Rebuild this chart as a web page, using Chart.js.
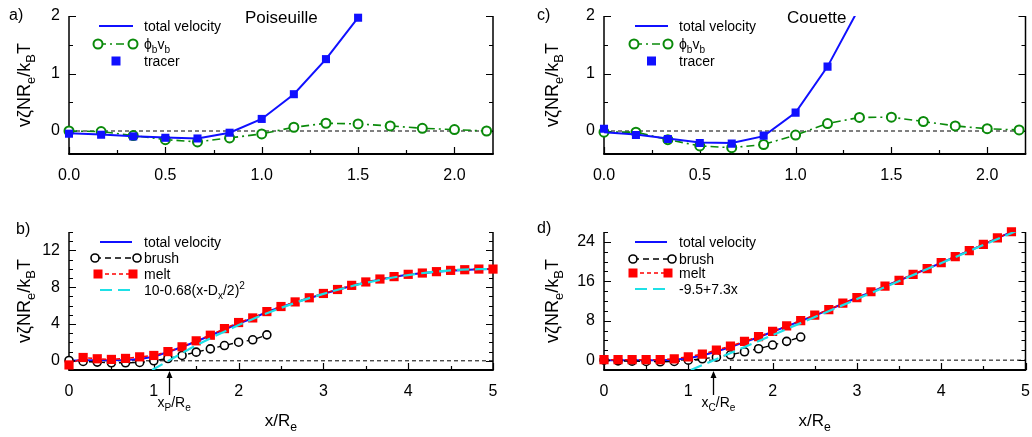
<!DOCTYPE html>
<html>
<head>
<meta charset="utf-8">
<script src="https://cdn.jsdelivr.net/npm/chart.js@4.4.1/dist/chart.umd.min.js"></script>
<style>
  html, body { margin: 0; padding: 0; background: #fff; width: 1032px; height: 437px; overflow: hidden; }
  canvas { position: absolute; }
</style>
</head>
<body>
<canvas id="ca" width="516" height="200" style="left:0;top:0"></canvas>
<canvas id="cb" width="516" height="237" style="left:0;top:200px"></canvas>
<canvas id="cc" width="516" height="200" style="left:516px;top:0"></canvas>
<canvas id="cd" width="516" height="237" style="left:516px;top:200px"></canvas>
<script>
  // ---- data ----
  const xSixths = [0, 0.1667, 0.3333, 0.5, 0.6667, 0.8333, 1.0, 1.1667, 1.3333, 1.5, 1.6667, 1.8333, 2.0, 2.1667];
  const xLong = [0, 0.1667, 0.3333, 0.5, 0.6667, 0.8333, 1.0, 1.1667, 1.3333, 1.5, 1.6667, 1.8333, 2.0, 2.1667, 2.3333,
    2.5, 2.6667, 2.8333, 3.0, 3.1667, 3.3333, 3.5, 3.6667, 3.8333, 4.0, 4.1667, 4.3333, 4.5, 4.6667, 4.8333, 5.0];

  // a) Poiseuille
  const tracerA = [-0.047, -0.065, -0.094, -0.118, -0.13, -0.03, 0.21, 0.64, 1.25, 1.97];
  const totalA = [-0.04, -0.06, -0.09, -0.115, -0.13, -0.03, 0.21, 0.64, 1.25, 1.97];
  const phiA = [0.0, -0.01, -0.08, -0.15, -0.19, -0.12, -0.05, 0.065, 0.135, 0.123, 0.088, 0.047, 0.024, 0.0];

  // c) Couette
  const tracerC = [0.04, -0.07, -0.14, -0.21, -0.22, -0.08, 0.32, 1.12];
  const totalC = [-0.02, -0.06, -0.13, -0.2, -0.21, -0.09, 0.32, 1.12, 2.15];
  const phiC = [-0.02, -0.02, -0.15, -0.26, -0.29, -0.235, -0.07, 0.13, 0.236, 0.24, 0.165, 0.088, 0.04, 0.018];

  // b) Poiseuille profile
  const meltB = [-0.45, 0.36, 0.22, 0.15, 0.26, 0.43, 0.58, 1.0, 1.52, 2.17, 2.78, 3.5, 4.16, 4.66, 5.35, 5.9,
    6.4, 6.85, 7.32, 7.75, 8.2, 8.57, 8.89, 9.15, 9.4, 9.54, 9.69, 9.83, 9.9, 9.97, 9.97];
  const totalB = [0, 0.05, 0.05, 0.05, 0.1, 0.2, 0.45, 0.95, 1.5, 2.1, 2.75, 3.4, 4.05, 4.62, 5.3, 5.85,
    6.35, 6.8, 7.28, 7.7, 8.15, 8.52, 8.85, 9.12, 9.37, 9.52, 9.67, 9.8, 9.88, 9.95, 9.97];
  const brushB = [0.04, -0.07, -0.14, -0.22, -0.22, -0.18, 0.0, 0.25, 0.58, 0.94, 1.3, 1.66, 2.02, 2.28, 2.82];
  const fitBx = [0.98, 1.5, 2.0, 2.5, 3.0, 3.5, 4.0, 4.5, 5.0];
  const fitBy = [-1.0, 1.67, 3.88, 5.75, 7.28, 8.47, 9.32, 9.83, 10.0];

  // d) Couette profile
  const meltD = [0.1, 0.1, 0.1, 0.1, 0.1, 0.27, 0.68, 1.22, 2.04, 2.86, 3.81, 4.76, 5.85, 6.94, 8.03, 9.12,
    10.25, 11.55, 12.7, 13.88, 15.03, 16.19, 17.41, 18.57, 19.8, 21.02, 22.24, 23.5, 24.8, 26.05];
  const totalD = [0, 0, 0, 0, 0, 0.1, 0.4, 0.95, 1.75, 2.65, 3.65, 4.65, 5.75, 6.85, 7.95, 9.05,
    10.2, 11.45, 12.65, 13.8, 15.0, 16.15, 17.35, 18.55, 19.75, 21.0, 22.2, 23.45, 24.75, 26.0];
  const brushD = [0, -0.14, -0.2, -0.27, -0.34, -0.27, 0, 0.27, 0.61, 1.09, 1.7, 2.31, 3.06, 3.81, 4.69];
  const fitDx = [1.03, 5.0];
  const fitDy = [-2.0, 27.0];

  // tick labels
  const xTicksTop = [0, 0.5, 1.0, 1.5, 2.0];
  const yTicksTop = [0, 1, 2];
  const xTicksBot = [0, 1, 2, 3, 4, 5];
  const yTicksB = [0, 4, 8, 12];
  const yTicksD = [0, 8, 16, 24];

  const FONT = '"Liberation Sans", Arial, Helvetica, sans-serif';
  const BLUE = '#1010ff', GREEN = '#0a8a0a', RED = '#ff0000', CYAN = '#1ee0e6';

  const Y_TITLE = [['v\u03B6NR'], ['e', 'sub'], ['/k'], ['B', 'sub'], ['T']];
  const X_TITLE = [['x/R'], ['e', 'sub']];

  const pts = (xs, ys) => ys.map((v, i) => ({ x: xs[i], y: v }));

  function rich(ctx, parts, x, y, size, align) {
    const sz = p => (p[1] ? size * 0.72 : size);
    const w = parts.map(p => { ctx.font = sz(p) + 'px ' + FONT; return ctx.measureText(p[0]).width; });
    const total = w.reduce((s, v) => s + v, 0);
    let cx = align === 'center' ? x - total / 2 : x;
    parts.forEach((p, i) => {
      const dy = p[1] === 'sub' ? size * 0.28 : p[1] === 'sup' ? -size * 0.42 : 0;
      ctx.font = sz(p) + 'px ' + FONT;
      ctx.fillText(p[0], cx, y + dy);
      cx += w[i];
    });
  }

  function marker(ctx, kind, x, y, color) {
    ctx.save();
    if (kind === 'rect') {
      ctx.fillStyle = color;
      ctx.fillRect(x - 4.5, y - 4.5, 9, 9);
    } else {
      ctx.fillStyle = '#fff';
      ctx.strokeStyle = color;
      ctx.lineWidth = kind === 'circleThin' ? 1.6 : 2;
      ctx.setLineDash([]);
      ctx.beginPath();
      ctx.arc(x, y, kind === 'circleThin' ? 4 : 4.5, 0, Math.PI * 2);
      ctx.fill();
      ctx.stroke();
    }
    ctx.restore();
  }

  const decor = {
    id: 'decor',
    beforeDatasetsDraw(chart, args, o) {
      const { ctx, chartArea: a, scales: { x, y } } = chart;
      ctx.save();
      ctx.strokeStyle = '#000';
      ctx.lineWidth = 1.5;
      ctx.beginPath();
      ctx.moveTo(a.left, a.top); ctx.lineTo(a.left, a.bottom);
      ctx.moveTo(a.right, a.top); ctx.lineTo(a.right, a.bottom);
      ctx.stroke();
      ctx.lineWidth = 2;
      ctx.beginPath();
      ctx.moveTo(a.left - 0.75, a.bottom); ctx.lineTo(a.right + 0.75, a.bottom);
      ctx.stroke();
      ctx.lineWidth = 1.2;
      ctx.beginPath();
      const isMajor = (arr, v) => arr.some(t => Math.abs(t - v) < 1e-6);
      const yStart = Math.ceil(y.min / o.yMinor - 1e-9) * o.yMinor;
      for (let i = 0; ; i++) {
        const v = yStart + i * o.yMinor;
        if (v > y.max + 1e-9) break;
        const py = Math.round(y.getPixelForValue(v)) + 0.5;
        const len = isMajor(o.yLabels, v) ? 7 : 4;
        ctx.moveTo(a.left, py); ctx.lineTo(a.left + len, py);
        ctx.moveTo(a.right, py); ctx.lineTo(a.right - len, py);
      }
      const xStart = Math.ceil(x.min / o.xMinor - 1e-9) * o.xMinor;
      for (let i = 0; ; i++) {
        const v = xStart + i * o.xMinor;
        if (v > x.max + 1e-9) break;
        const px = Math.round(x.getPixelForValue(v)) + 0.5;
        const len = isMajor(o.xLabels, v) ? 7 : 4;
        ctx.moveTo(px, a.bottom); ctx.lineTo(px, a.bottom - len);
      }
      ctx.stroke();
      ctx.restore();
    },
    afterDraw(chart, args, o) {
      const { ctx, chartArea: a, scales: { x } } = chart;
      ctx.save();
      ctx.fillStyle = '#000';
      ctx.textBaseline = 'alphabetic';
      ctx.font = '16px ' + FONT;
      ctx.fillText(o.letter.text, o.letter.x, o.letter.y);
      if (o.title) {
        ctx.font = '17px ' + FONT;
        ctx.fillText(o.title.text, o.title.x, o.title.y);
      }
      // y title
      ctx.save();
      ctx.translate(o.yTitleX, (a.top + a.bottom) / 2);
      ctx.rotate(-Math.PI / 2);
      rich(ctx, Y_TITLE, 0, 0, 18, 'center');
      ctx.restore();
      if (o.xTitleY) rich(ctx, X_TITLE, (a.left + a.right) / 2, o.xTitleY, 17, 'center');
      // legend
      o.legend.forEach(it => {
        ctx.save();
        if (it.line) {
          ctx.strokeStyle = it.color;
          ctx.lineWidth = it.width;
          ctx.setLineDash(it.dash || []);
          ctx.beginPath();
          ctx.moveTo(it.x1, it.y); ctx.lineTo(it.x2, it.y);
          ctx.stroke();
        }
        if (it.marker === 'ends') {
          marker(ctx, it.kind, it.x1, it.y, it.color);
          marker(ctx, it.kind, it.x2, it.y, it.color);
        } else if (it.marker === 'mid') {
          marker(ctx, it.kind, (it.x1 + it.x2) / 2, it.y, it.color);
        }
        ctx.restore();
        ctx.fillStyle = '#000';
        rich(ctx, it.text, o.legendTextX, it.y + 5, 14, 'left');
      });
      // arrow marking x_P / x_C
      if (o.arrow) {
        const px = Math.round(x.getPixelForValue(o.arrow.x)) + 0.5;
        ctx.strokeStyle = '#000';
        ctx.lineWidth = 1.3;
        ctx.beginPath();
        ctx.moveTo(px, a.bottom + 6); ctx.lineTo(px, a.bottom + 25);
        ctx.stroke();
        ctx.beginPath();
        ctx.moveTo(px, a.bottom + 1); ctx.lineTo(px - 3, a.bottom + 8); ctx.lineTo(px + 3, a.bottom + 8);
        ctx.closePath();
        ctx.fill();
        rich(ctx, o.arrow.label, px - 12, a.bottom + 37, 14, 'left');
      }
      ctx.restore();
    }
  };

  function makeChart(id, datasets, o) {
    return new Chart(document.getElementById(id).getContext('2d'), {
      type: 'scatter',
      data: { datasets },
      plugins: [decor],
      options: {
        responsive: false,
        animation: false,
        events: [],
        layout: { padding: { left: 0, top: o.top, right: o.right, bottom: 0 } },
        plugins: { legend: { display: false }, tooltip: { enabled: false }, decor: o },
        scales: {
          x: {
            type: 'linear', min: o.xMin, max: o.xMax,
            grid: { display: false, drawTicks: false }, border: { display: false },
            afterBuildTicks: s => { s.ticks = o.xLabels.map(v => ({ value: v })); },
            afterFit: s => { s.height = o.xH; s.paddingLeft = 0; s.paddingRight = 0; },
            ticks: {
              padding: 12, maxRotation: 0, autoSkip: false, color: '#000',
              font: { family: FONT, size: 16 },
              callback: v => o.xFmt(v)
            }
          },
          y: {
            type: 'linear', min: o.yMin, max: o.yMax,
            grid: { display: false, drawTicks: false }, border: { display: false },
            afterBuildTicks: s => { s.ticks = o.yLabels.map(v => ({ value: v })); },
            afterFit: s => { s.width = o.yW; s.paddingTop = 0; s.paddingBottom = 0; },
            ticks: {
              padding: 9, autoSkip: false, color: '#000',
              font: { family: FONT, size: 16 },
              callback: v => String(v)
            }
          }
        }
      }
    });
  }

  const zeroLine = xs => ({
    data: pts(xs, [0, 0]), showLine: true, borderColor: '#000', borderWidth: 1,
    borderDash: [4, 3], pointRadius: 0, order: 20
  });

  // ---- a) ----
  makeChart('ca', [
    { data: pts(xSixths, tracerA), showLine: false, pointStyle: 'rect', pointRadius: 5.7,
      backgroundColor: BLUE, borderWidth: 0, order: 1, clip: 10 },
    { data: pts(xSixths, totalA), showLine: true, borderColor: BLUE, borderWidth: 2, pointRadius: 0, order: 2 },
    { data: pts(xSixths, phiA), showLine: true, borderColor: GREEN, borderWidth: 1.6, borderDash: [8, 4, 2, 4],
      pointRadius: 4.5, pointBorderWidth: 2, pointBackgroundColor: '#fff', pointBorderColor: GREEN, order: 3, clip: 10 },
    zeroLine([0, 2.2])
  ], {
    top: 16, right: 23, yW: 69, xH: 46,
    xMin: 0, xMax: 2.2, yMin: -0.4, yMax: 2, xMinor: 0.25, yMinor: 0.5,
    xLabels: xTicksTop, yLabels: yTicksTop, xFmt: v => v.toFixed(1),
    letter: { text: 'a)', x: 9, y: 20 },
    title: { text: 'Poiseuille', x: 245, y: 23 },
    yTitleX: 30,
    legendTextX: 144,
    legend: [
      { y: 26, x1: 99, x2: 133, line: true, color: BLUE, width: 2, text: [['total velocity']] },
      { y: 44, x1: 98, x2: 133, line: true, color: GREEN, width: 1.6, dash: [8, 4, 2, 4], marker: 'ends', kind: 'circle',
        text: [['\u03D5'], ['b', 'sub'], ['v'], ['b', 'sub']] },
      { y: 61, x1: 99, x2: 133, marker: 'mid', kind: 'rect', color: BLUE, text: [['tracer']] }
    ]
  });

  // ---- c) ----
  makeChart('cc', [
    { data: pts(xSixths, tracerC), showLine: false, pointStyle: 'rect', pointRadius: 5.7,
      backgroundColor: BLUE, borderWidth: 0, order: 1, clip: 10 },
    { data: pts(xSixths, totalC), showLine: true, borderColor: BLUE, borderWidth: 2, pointRadius: 0, order: 2 },
    { data: pts(xSixths, phiC), showLine: true, borderColor: GREEN, borderWidth: 1.6, borderDash: [8, 4, 2, 4],
      pointRadius: 4.5, pointBorderWidth: 2, pointBackgroundColor: '#fff', pointBorderColor: GREEN, order: 3, clip: 10 },
    zeroLine([0, 2.2])
  ], {
    top: 16, right: 3, yW: 88, xH: 46,
    xMin: 0, xMax: 2.2, yMin: -0.4, yMax: 2, xMinor: 0.25, yMinor: 0.5,
    xLabels: xTicksTop, yLabels: yTicksTop, xFmt: v => v.toFixed(1),
    letter: { text: 'c)', x: 21, y: 20 },
    title: { text: 'Couette', x: 271, y: 23 },
    yTitleX: 42,
    legendTextX: 163,
    legend: [
      { y: 26, x1: 119, x2: 152, line: true, color: BLUE, width: 2, text: [['total velocity']] },
      { y: 44, x1: 118, x2: 152, line: true, color: GREEN, width: 1.6, dash: [8, 4, 2, 4], marker: 'ends', kind: 'circle',
        text: [['\u03D5'], ['b', 'sub'], ['v'], ['b', 'sub']] },
      { y: 61, x1: 119, x2: 152, marker: 'mid', kind: 'rect', color: BLUE, text: [['tracer']] }
    ]
  });

  // ---- b) ----
  makeChart('cb', [
    { data: pts(fitBx, fitBy), showLine: true, borderColor: CYAN, borderWidth: 2.2, borderDash: [12, 6],
      pointRadius: 0, cubicInterpolationMode: 'monotone', order: 1 },
    { data: pts(xLong, meltB), showLine: true, borderColor: RED, borderWidth: 1.5, borderDash: [4, 3],
      pointStyle: 'rect', pointRadius: 6.5, pointBackgroundColor: RED, pointBorderWidth: 0, order: 2, clip: 10 },
    { data: pts(xLong, brushB), showLine: true, borderColor: '#000', borderWidth: 1.4, borderDash: [6, 4],
      pointRadius: 4, pointBorderWidth: 1.6, pointBackgroundColor: '#fff', pointBorderColor: '#000', order: 3, clip: 10 },
    { data: pts(xLong, totalB), showLine: true, borderColor: BLUE, borderWidth: 2, pointRadius: 0, order: 4 },
    zeroLine([0, 5])
  ], {
    top: 32, right: 23, yW: 69, xH: 67,
    xMin: 0, xMax: 5, yMin: -1, yMax: 14, xMinor: 0.5, yMinor: 1,
    xLabels: xTicksBot, yLabels: yTicksB, xFmt: v => String(v),
    letter: { text: 'b)', x: 16, y: 34 },
    yTitleX: 30,
    xTitleY: 226,
    legendTextX: 144,
    legend: [
      { y: 42, x1: 100, x2: 132, line: true, color: BLUE, width: 2, text: [['total velocity']] },
      { y: 58, x1: 95, x2: 137, line: true, color: '#000', width: 1.4, dash: [6, 4], marker: 'ends', kind: 'circleThin',
        text: [['brush']] },
      { y: 74, x1: 98, x2: 133, line: true, color: RED, width: 1.5, dash: [4, 3], marker: 'ends', kind: 'rect',
        text: [['melt']] },
      { y: 90, x1: 100, x2: 132, line: true, color: CYAN, width: 2.2, dash: [12, 6],
        text: [['10-0.68(x-D'], ['x', 'sub'], ['/2)'], ['2', 'sup']] }
    ],
    arrow: { x: 1.18, label: [['x'], ['P', 'sub'], ['/R'], ['e', 'sub']] }
  });

  // ---- d) ----
  makeChart('cd', [
    { data: pts(fitDx, fitDy), showLine: true, borderColor: CYAN, borderWidth: 2.2, borderDash: [12, 6],
      pointRadius: 0, order: 1 },
    { data: pts(xLong, meltD), showLine: true, borderColor: RED, borderWidth: 1.5, borderDash: [4, 3],
      pointStyle: 'rect', pointRadius: 6.5, pointBackgroundColor: RED, pointBorderWidth: 0, order: 2, clip: 10 },
    { data: pts(xLong, brushD), showLine: true, borderColor: '#000', borderWidth: 1.4, borderDash: [6, 4],
      pointRadius: 4, pointBorderWidth: 1.6, pointBackgroundColor: '#fff', pointBorderColor: '#000', order: 3, clip: 10 },
    { data: pts(xLong, totalD), showLine: true, borderColor: BLUE, borderWidth: 2, pointRadius: 0, order: 4 },
    zeroLine([0, 5])
  ], {
    top: 32, right: 3, yW: 88, xH: 67,
    xMin: 0, xMax: 5, yMin: -2, yMax: 26, xMinor: 0.5, yMinor: 2,
    xLabels: xTicksBot, yLabels: yTicksD, xFmt: v => String(v),
    letter: { text: 'd)', x: 21, y: 33 },
    yTitleX: 42,
    xTitleY: 226,
    legendTextX: 163,
    legend: [
      { y: 42, x1: 119, x2: 151, line: true, color: BLUE, width: 2, text: [['total velocity']] },
      { y: 59, x1: 117, x2: 156, line: true, color: '#000', width: 1.4, dash: [6, 4], marker: 'ends', kind: 'circleThin',
        text: [['brush']] },
      { y: 73, x1: 117, x2: 152, line: true, color: RED, width: 1.5, dash: [4, 3], marker: 'ends', kind: 'rect',
        text: [['melt']] },
      { y: 89, x1: 119, x2: 151, line: true, color: CYAN, width: 2.2, dash: [12, 6], text: [['-9.5+7.3x']] }
    ],
    arrow: { x: 1.29, label: [['x'], ['C', 'sub'], ['/R'], ['e', 'sub']] }
  });
</script>
</body>
</html>
